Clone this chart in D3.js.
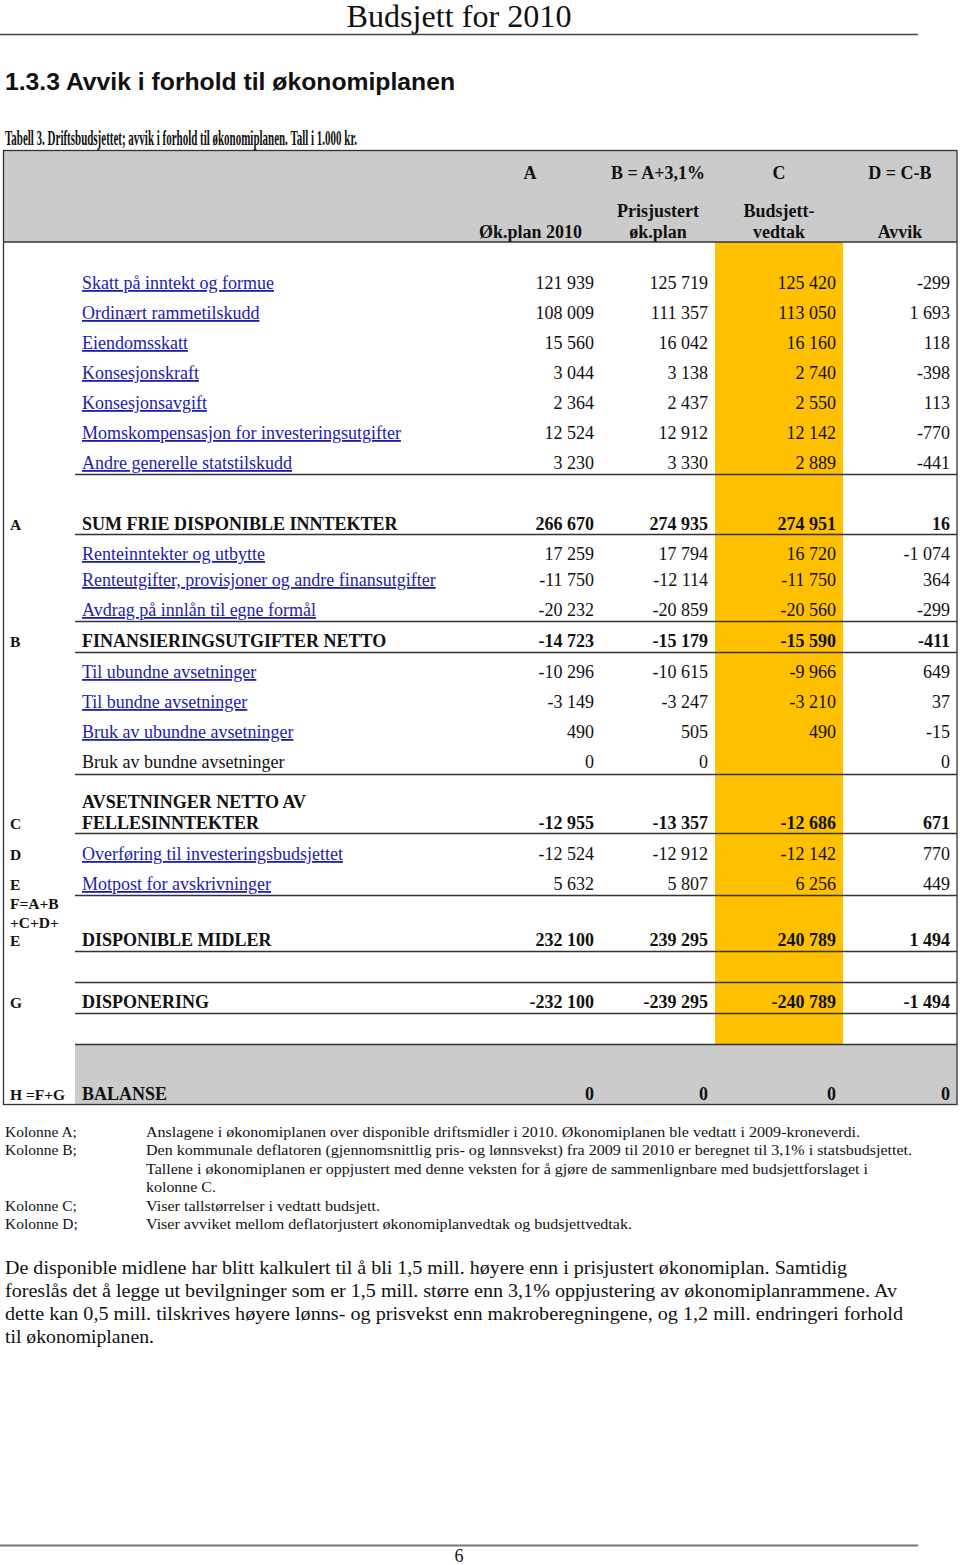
<!DOCTYPE html>
<html><head><meta charset="utf-8">
<script src="https://cdn.jsdelivr.net/npm/d3@7"></script>
<style>
html,body{margin:0;padding:0;background:#fff;}
svg{display:block;}
</style></head>
<body>
<svg id="c" width="960" height="1565"></svg>
<script>
// ---------------- DATA ----------------
const columns = ["A","B","C","D"];
const colFormula = ["A","B = A+3,1%","C","D = C-B"];
const colTitle = [["Øk.plan 2010"],["Prisjustert","øk.plan"],["Budsjett-","vedtak"],["Avvik"]];
const rowLetters = ["","","","","","","","A","","","","B","","","","","C","D","E","F=A+B|+C+D+|E","G","H =F+G"];
const rowLabels = [
 "Skatt på inntekt og formue","Ordinært rammetilskudd","Eiendomsskatt","Konsesjonskraft","Konsesjonsavgift",
 "Momskompensasjon for investeringsutgifter","Andre generelle statstilskudd","SUM FRIE DISPONIBLE INNTEKTER",
 "Renteinntekter og utbytte","Renteutgifter, provisjoner og andre finansutgifter","Avdrag på innlån til egne formål",
 "FINANSIERINGSUTGIFTER NETTO","Til ubundne avsetninger","Til bundne avsetninger","Bruk av ubundne avsetninger",
 "Bruk av bundne avsetninger","AVSETNINGER NETTO AV|FELLESINNTEKTER","Overføring til investeringsbudsjettet",
 "Motpost for avskrivninger","DISPONIBLE MIDLER","DISPONERING","BALANSE"];
const valuesA = [121939,108009,15560,3044,2364,12524,3230,266670,17259,-11750,-20232,-14723,-10296,-3149,490,0,-12955,-12524,5632,232100,-232100,0];
const valuesB = [125719,111357,16042,3138,2437,12912,3330,274935,17794,-12114,-20859,-15179,-10615,-3247,505,0,-13357,-12912,5807,239295,-239295,0];
const valuesC = [125420,113050,16160,2740,2550,12142,2889,274951,16720,-11750,-20560,-15590,-9966,-3210,490,null,-12686,-12142,6256,240789,-240789,0];
const valuesD = [-299,1693,118,-398,113,-770,-441,16,-1074,364,-299,-411,649,37,-15,0,671,770,449,1494,-1494,0];
const rowKind = ["link","link","link","link","link","link","link","sum","link","link","link","sum","link","link","link","plain","sum","link","link","sum","sum","sum"];

const noteKeys = ["Kolonne A;","Kolonne B;","","","Kolonne C;","Kolonne D;"];
const noteTexts = [
 "Anslagene i økonomiplanen over disponible driftsmidler i 2010. Økonomiplanen ble vedtatt i 2009-kroneverdi.",
 "Den kommunale deflatoren (gjennomsnittlig pris- og lønnsvekst) fra 2009 til 2010 er beregnet til 3,1% i statsbudsjettet.",
 "Tallene i økonomiplanen er oppjustert med denne veksten for å gjøre de sammenlignbare med budsjettforslaget i",
 "kolonne C.",
 "Viser tallstørrelser i vedtatt budsjett.",
 "Viser avviket mellom deflatorjustert økonomiplanvedtak og budsjettvedtak."];
const paraLines = [
 "De disponible midlene har blitt kalkulert til å bli 1,5 mill. høyere enn i prisjustert økonomiplan. Samtidig",
 "foreslås det å legge ut bevilgninger som er 1,5 mill. større enn 3,1% oppjustering av økonomiplanrammene. Av",
 "dette kan 0,5 mill. tilskrives høyere  lønns- og prisvekst enn makroberegningene, og 1,2 mill. endringeri forhold",
 "til økonomiplanen."];

// ---------------- LAYOUT ----------------
const rowBase = [289,319,349,379,409,439,469,530,560,586,616,647,678,708,738,768,829,860,890,946,1008,1100];
const ruleY = [474,534,621,652,774,833,895,951,982,1013,1044];
const noteY = [1137,1155,1174,1192,1211,1229];
const noteW = [714,766,722,70,234,486];
const paraY = [1274,1297,1320,1343];
const paraW = [842,892,898,149];

const svg = d3.select("#c");
const serif = "'Liberation Serif','Times New Roman',serif";
const sans = "'Liberation Sans',Arial,sans-serif";
const fmt = d3.formatLocale({decimal:",",thousands:"\u00a0",grouping:[3],currency:["",""],minus:"-"}).format(",d");

const colRight = d3.scaleOrdinal().domain(columns).range([594,708,836,950]);
const colCenter = d3.scaleOrdinal().domain(columns).range([530,658,779,900]);
const yRow = d3.scaleOrdinal().domain(d3.range(rowLabels.length)).range(rowBase);

// page header
svg.append("text").attr("x",459).attr("y",27).attr("text-anchor","middle")
  .attr("font-family",serif).attr("font-size",31).attr("fill","#111")
  .attr("textLength",225).attr("lengthAdjust","spacingAndGlyphs").text("Budsjett for 2010");
svg.append("line").attr("x1",0).attr("x2",918).attr("y1",34.5).attr("y2",34.5).attr("stroke","#444").attr("stroke-width",1.5);

svg.append("text").attr("x",5).attr("y",90).attr("font-family",sans).attr("font-weight","bold")
  .attr("font-size",23).attr("fill","#111").attr("textLength",450).attr("lengthAdjust","spacingAndGlyphs")
  .text("1.3.3  Avvik i forhold til økonomiplanen");
svg.append("text").attr("x",5).attr("y",145).attr("font-family",serif).attr("font-weight","bold")
  .attr("font-size",21).attr("fill","#111").attr("textLength",352).attr("lengthAdjust","spacingAndGlyphs")
  .text("Tabell 3. Driftsbudsjettet; avvik i forhold til økonomiplanen. Tall i 1.000 kr.");

// backgrounds
svg.append("rect").attr("x",3).attr("y",150).attr("width",954).attr("height",92).attr("fill","#cbcbcb");
svg.append("rect").attr("x",715).attr("y",242).attr("width",128).attr("height",802).attr("fill","#FFC000");
svg.append("rect").attr("x",75).attr("y",1044).attr("width",882).attr("height",61).attr("fill","#cbcbcb");

// header texts
const hdr = svg.append("g").attr("font-family",serif).attr("font-weight","bold").attr("font-size",18).attr("fill","#111");
hdr.selectAll("text.f").data(columns).join("text").attr("class","f")
  .attr("x",d=>colCenter(d)).attr("y",179).attr("text-anchor","middle").text((d,i)=>colFormula[i]);
columns.forEach((c,i)=>{
  const lines = colTitle[i];
  lines.forEach((t,j)=>{
    const y = 238 - (lines.length-1-j)*21;
    const t0 = hdr.append("text").attr("y",y).text(t);
    if(i===0) t0.attr("x",582).attr("text-anchor","end");
    else t0.attr("x",colCenter(c)).attr("text-anchor","middle");
  });
});

// rules
svg.append("line").attr("x1",3).attr("x2",957).attr("y1",242).attr("y2",242).attr("stroke","#333").attr("stroke-width",1.5);
svg.selectAll("line.rule").data(ruleY).join("line").attr("class","rule")
  .attr("x1",75).attr("x2",957).attr("y1",d=>d+0.5).attr("y2",d=>d+0.5).attr("stroke","#333").attr("stroke-width",1.3);
svg.append("rect").attr("x",3.5).attr("y",150.5).attr("width",953.5).attr("height",954).attr("fill","none").attr("stroke","#333").attr("stroke-width",1.3);

// rows
const rows = svg.append("g").attr("font-family",serif).attr("font-size",18);
rowLabels.forEach((lab,i)=>{
  const kind = rowKind[i];
  const y = yRow(i);
  const parts = lab.split("|");
  parts.forEach((p,j)=>{
    const t = rows.append("text").attr("x",82).attr("y",y-(parts.length-1-j)*21).text(p);
    if(kind==="link") t.attr("fill","#1c1cb0").attr("text-decoration","underline");
    else t.attr("fill","#111");
    if(kind==="sum") t.attr("font-weight","bold");
  });
  const lp = rowLetters[i].split("|");
  lp.forEach((p,j)=>{
    if(!p) return;
    rows.append("text").attr("x",10).attr("y",y-(lp.length-1-j)*18.5).attr("font-size",15.5)
      .attr("font-weight","bold").attr("fill","#111").text(p);
  });
  const vals = [valuesA[i],valuesB[i],valuesC[i],valuesD[i]];
  columns.forEach((c,k)=>{
    if(vals[k]===null) return;
    rows.append("text").attr("x",colRight(c)).attr("y",y).attr("text-anchor","end")
      .attr("fill","#111").attr("font-weight",kind==="sum"?"bold":"normal").text(fmt(vals[k]));
  });
});

// notes
const notes = svg.append("g").attr("font-family",serif).attr("font-size",15.5).attr("fill","#111");
noteKeys.forEach((k,i)=>{
  if(k) notes.append("text").attr("x",5).attr("y",noteY[i]).text(k);
  notes.append("text").attr("x",146).attr("y",noteY[i]).attr("textLength",noteW[i]).attr("lengthAdjust","spacingAndGlyphs").text(noteTexts[i]);
});
const para = svg.append("g").attr("font-family",serif).attr("font-size",19).attr("fill","#111");
paraLines.forEach((t,i)=>{
  para.append("text").attr("x",5).attr("y",paraY[i]).attr("textLength",paraW[i]).attr("lengthAdjust","spacingAndGlyphs").text(t);
});

// footer
svg.append("line").attr("x1",0).attr("x2",918).attr("y1",1545.5).attr("y2",1545.5).attr("stroke","#777").attr("stroke-width",2);
svg.append("text").attr("x",459).attr("y",1562).attr("text-anchor","middle").attr("font-family",serif).attr("font-size",18).attr("fill","#111").text("6");
</script>
</body></html>
